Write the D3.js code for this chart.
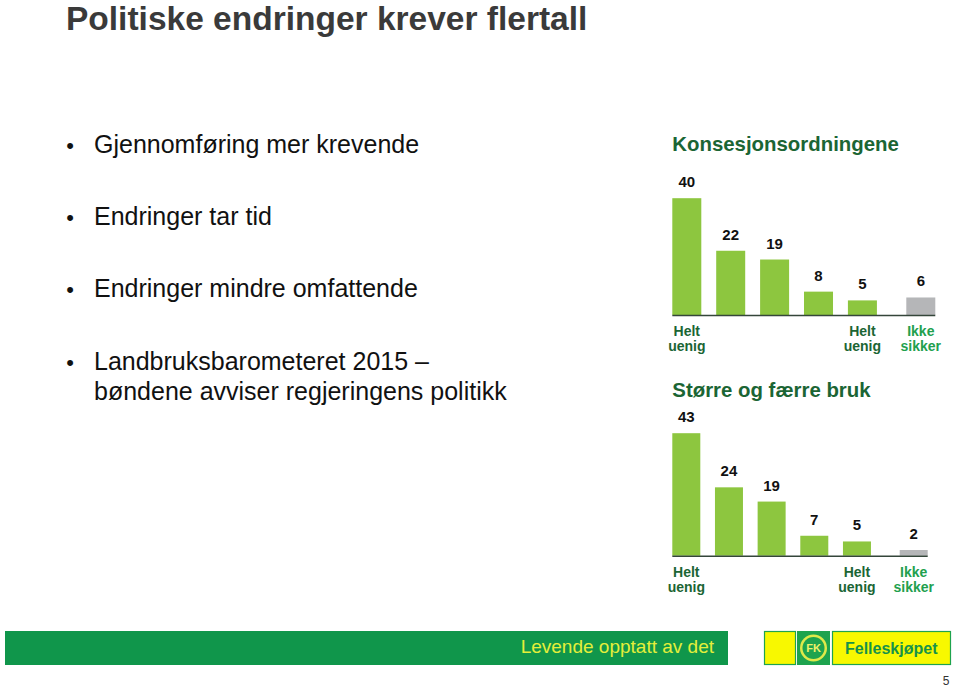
<!DOCTYPE html>
<html>
<head>
<meta charset="utf-8">
<script src="https://cdn.jsdelivr.net/npm/d3@7"></script>
<style>
  html, body { margin: 0; padding: 0; background: #fff; }
  svg { display: block; font-family: "Liberation Sans", Arial, Helvetica, sans-serif; }
</style>
</head>
<body>
<svg id="chart" width="960" height="689"></svg>
<script>
// ---- Data ----
const pageTitle = "Politiske endringer krever flertall";
const bullets = [
  ["Gjennomføring mer krevende"],
  ["Endringer tar tid"],
  ["Endringer mindre omfattende"],
  ["Landbruksbarometeret 2015 –", "bøndene avviser regjeringens politikk"]
];
const categories = ["1", "2", "3", "4", "5", "Ikke sikker"];
const categoryLabels = [["Helt", "uenig"], [], [], [], ["Helt", "uenig"], ["Ikke", "sikker"]];
const chart1Title = "Konsesjonsordningene";
const chart1Values = [40, 22, 19, 8, 5, 6];
const chart2Title = "Større og færre bruk";
const chart2Values = [43, 24, 19, 7, 5, 2];
const footerSlogan = "Levende opptatt av det";
const brandName = "Felleskjøpet";
const pageNumber = "5";

// ---- Drawing ----
const svg = d3.select("#chart");
svg.append("rect").attr("width", 960).attr("height", 689).attr("fill", "#fff");

svg.append("text")
  .attr("x", 66).attr("y", 30)
  .attr("font-size", 33.5).attr("font-weight", "bold")
  .attr("fill", "#3a3a3a")
  .text(pageTitle);

// bullets
const bulletBaselines = [153, 225, 297, 370];
bullets.forEach((lines, i) => {
  const g = svg.append("g");
  g.append("text")
    .attr("x", 70).attr("y", bulletBaselines[i])
    .attr("text-anchor", "middle")
    .attr("font-size", 22).attr("fill", "#111")
    .text("•");
  const t = g.append("text")
    .attr("x", 94).attr("y", bulletBaselines[i])
    .attr("font-size", 25).attr("fill", "#111");
  lines.forEach((ln, j) => {
    t.append("tspan").attr("x", 94).attr("dy", j === 0 ? 0 : 29.5).text(ln);
  });
});

const BAR_GREEN = "#8dc63f";
const BAR_GRAY = "#b5b6b8";
const GAP_EXTRA = 0.33;

function drawChart(opt) {
  const { title, values, titleY, left, grayLeft, barW, baseline, top } = opt;
  const g = svg.append("g");
  const slot = i => i + (i === categories.length - 1 ? GAP_EXTRA : 0);
  const x = d3.scaleLinear()
    .domain([0, slot(categories.length - 1)])
    .range([left, grayLeft]);
  const maxV = d3.max(values);
  const y = d3.scaleLinear().domain([0, maxV]).range([baseline, top]);

  g.append("text")
    .attr("x", left).attr("y", titleY)
    .attr("font-size", 20.4).attr("font-weight", "bold")
    .attr("fill", "#1b6534")
    .text(title);

  const data = categories.map((c, i) => ({ c, i, v: values[i] }));

  g.selectAll("rect.bar").data(data).enter().append("rect")
    .attr("class", "bar")
    .attr("x", d => x(slot(d.i)))
    .attr("y", d => y(d.v))
    .attr("width", barW)
    .attr("height", d => y(0) - y(d.v))
    .attr("fill", d => d.c === "Ikke sikker" ? BAR_GRAY : BAR_GREEN);

  g.append("line")
    .attr("x1", x(0)).attr("x2", x(slot(categories.length - 1)) + barW)
    .attr("y1", y(0) + 0.5).attr("y2", y(0) + 0.5)
    .attr("stroke", "#34463a").attr("stroke-width", 1.5);

  g.selectAll("text.val").data(data).enter().append("text")
    .attr("class", "val")
    .attr("x", d => x(slot(d.i)) + barW / 2)
    .attr("y", d => y(d.v) - 11)
    .attr("text-anchor", "middle")
    .attr("font-size", 15).attr("font-weight", "bold")
    .attr("fill", "#111")
    .text(d => d.v);

  g.selectAll("text.cat").data(data).enter().append("text")
    .attr("class", "cat")
    .attr("x", d => x(slot(d.i)) + barW / 2)
    .attr("y", y(0) + 21)
    .attr("text-anchor", "middle")
    .attr("font-size", 14).attr("font-weight", "bold")
    .attr("fill", d => d.c === "Ikke sikker" ? "#22a04e" : "#1b6534")
    .each(function (d) {
      const el = d3.select(this);
      categoryLabels[d.i].forEach((ln, j) => {
        el.append("tspan")
          .attr("x", x(slot(d.i)) + barW / 2)
          .attr("dy", j === 0 ? 0 : 15)
          .text(ln);
      });
    });
}

drawChart({ title: chart1Title, values: chart1Values, titleY: 151,
  left: 672.3, grayLeft: 906.3, barW: 29, baseline: 315, top: 198.2 });
drawChart({ title: chart2Title, values: chart2Values, titleY: 397,
  left: 672.3, grayLeft: 899.7, barW: 28, baseline: 555.7, top: 433.2 });

// footer
const FOOT_GREEN = "#10964b";
svg.append("rect").attr("x", 5).attr("y", 631).attr("width", 723).attr("height", 34)
  .attr("fill", FOOT_GREEN);
svg.append("text")
  .attr("x", 714).attr("y", 653)
  .attr("text-anchor", "end")
  .attr("font-size", 19).attr("fill", "#e4ef3a")
  .text(footerSlogan);

const YEL = "#f8f800";
const LG = "#1ea34e";
svg.append("rect").attr("x", 764.5).attr("y", 631.5).attr("width", 31).attr("height", 33)
  .attr("fill", YEL).attr("stroke", LG).attr("stroke-width", 1.2);
svg.append("rect").attr("x", 797).attr("y", 631).attr("width", 33).attr("height", 34)
  .attr("fill", LG);
svg.append("rect").attr("x", 832.5).attr("y", 631.5).attr("width", 118).attr("height", 33)
  .attr("fill", YEL).attr("stroke", LG).attr("stroke-width", 1.2);
svg.append("circle").attr("cx", 813.5).attr("cy", 648).attr("r", 13.5)
  .attr("fill", "#dfe94a");
svg.append("circle").attr("cx", 813.5).attr("cy", 648).attr("r", 11)
  .attr("fill", LG);
svg.append("text").attr("x", 813.5).attr("y", 652)
  .attr("text-anchor", "middle").attr("font-size", 11).attr("font-weight", "bold")
  .attr("fill", "#eef26a").text("FK");
svg.append("text")
  .attr("x", 845).attr("y", 654)
  .attr("font-size", 16).attr("font-weight", "bold")
  .attr("fill", "#16924a")
  .text(brandName);

svg.append("text")
  .attr("x", 946).attr("y", 685)
  .attr("text-anchor", "middle")
  .attr("font-size", 12).attr("fill", "#333")
  .text(pageNumber);
</script>
</body>
</html>
